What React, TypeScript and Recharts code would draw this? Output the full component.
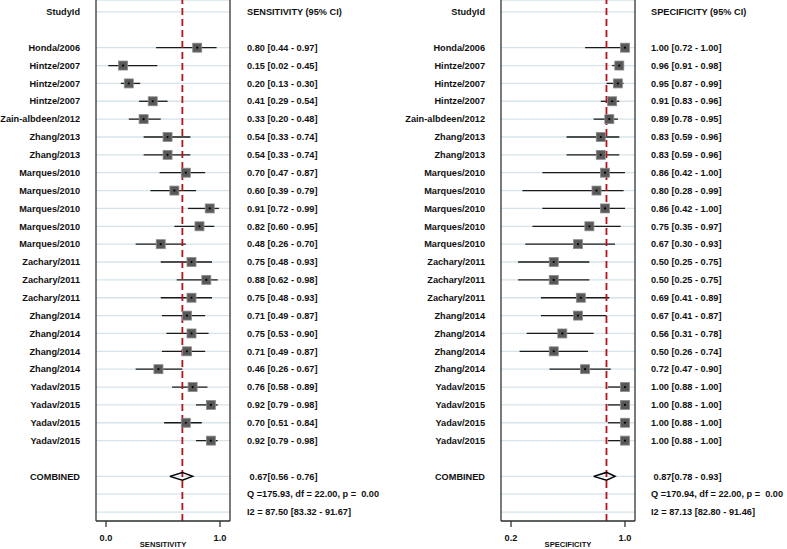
import React from 'react';
import { ComposedChart, Scatter, XAxis, YAxis, CartesianGrid, ReferenceLine, ErrorBar } from 'recharts';

const studies = [
  'Honda/2006', 'Hintze/2007', 'Hintze/2007', 'Hintze/2007', 'Zain-albdeen/2012',
  'Zhang/2013', 'Zhang/2013', 'Marques/2010', 'Marques/2010', 'Marques/2010',
  'Marques/2010', 'Marques/2010', 'Zachary/2011', 'Zachary/2011', 'Zachary/2011',
  'Zhang/2014', 'Zhang/2014', 'Zhang/2014', 'Zhang/2014', 'Yadav/2015',
  'Yadav/2015', 'Yadav/2015', 'Yadav/2015',
];

const sensEst = [0.80, 0.15, 0.20, 0.41, 0.33, 0.54, 0.54, 0.70, 0.60, 0.91, 0.82, 0.48, 0.75, 0.88, 0.75, 0.71, 0.75, 0.71, 0.46, 0.76, 0.92, 0.70, 0.92];
const sensLo = [0.44, 0.02, 0.13, 0.29, 0.20, 0.33, 0.33, 0.47, 0.39, 0.72, 0.60, 0.26, 0.48, 0.62, 0.48, 0.49, 0.53, 0.49, 0.26, 0.58, 0.79, 0.51, 0.79];
const sensHi = [0.97, 0.45, 0.30, 0.54, 0.48, 0.74, 0.74, 0.87, 0.79, 0.99, 0.95, 0.70, 0.93, 0.98, 0.93, 0.87, 0.90, 0.87, 0.67, 0.89, 0.98, 0.84, 0.98];

const specEst = [1.00, 0.96, 0.95, 0.91, 0.89, 0.83, 0.83, 0.86, 0.80, 0.86, 0.75, 0.67, 0.50, 0.50, 0.69, 0.67, 0.56, 0.50, 0.72, 1.00, 1.00, 1.00, 1.00];
const specLo = [0.72, 0.91, 0.87, 0.83, 0.78, 0.59, 0.59, 0.42, 0.28, 0.42, 0.35, 0.30, 0.25, 0.25, 0.41, 0.41, 0.31, 0.26, 0.47, 0.88, 0.88, 0.88, 0.88];
const specHi = [1.00, 0.98, 0.99, 0.96, 0.95, 0.96, 0.96, 1.00, 0.99, 1.00, 0.97, 0.93, 0.75, 0.75, 0.89, 0.87, 0.78, 0.74, 0.90, 1.00, 1.00, 1.00, 1.00];

// [estimate, lower, upper]
const sensCombined = [0.67, 0.56, 0.76];
const specCombined = [0.87, 0.78, 0.93];
// [Q, df, p]
const sensHetero = [175.93, 22.0, 0.0];
const specHetero = [170.94, 22.0, 0.0];
// [I2, lower, upper]
const sensI2 = [87.5, 83.32, 91.67];
const specI2 = [87.13, 82.8, 91.46];

const sensTicks = [0, 1];
const specTicks = [0.2, 1.0];

const FONT = '"Liberation Sans", Arial, Helvetica, sans-serif';
const FIRST_ROW = 2;
const COMBINED_ROW = FIRST_ROW + studies.length + 1;
const Q_ROW = COMBINED_ROW + 1;
const I2_ROW = COMBINED_ROW + 2;
const Y_DOMAIN: [number, number] = [-0.67, I2_ROW + 0.5];
const rowTicks = [0, ...studies.map((_, i) => i + FIRST_ROW), COMBINED_ROW, Q_ROW, I2_ROW];

const f2 = (v: number) => v.toFixed(2);

const RowTick = (props: any) => {
  const { x, y, payload, labels, anchor } = props;
  const t = labels[payload.value];
  if (!t) return <g />;
  return (
    <text
      x={x}
      y={y}
      dy="0.35em"
      textAnchor={anchor}
      fontSize={9.2}
      fontWeight="bold"
      fill="#111"
      fontFamily={FONT}
      xmlSpace="preserve"
      style={{ whiteSpace: 'pre' }}
    >
      {t}
    </text>
  );
};

const Square = (props: any) => {
  const { cx, cy } = props;
  if (cx == null || cy == null) return <g />;
  return (
    <g>
      <rect x={cx - 4.5} y={cy - 4.5} width={9} height={9} fill="#595959" stroke="#8c8c8c" strokeWidth={0.8} />
      <circle cx={cx} cy={cy} r={1.1} fill="#000" />
    </g>
  );
};

const Nothing = () => <g />;

type PanelProps = {
  header: string;
  title: string;
  est: number[];
  lo: number[];
  hi: number[];
  combined: number[];
  hetero: number[];
  i2: number[];
  xDomain: [number, number];
  xTicks: number[];
  left: number;
  width: number;
  leftW: number;
  rightW: number;
  rightMargin: number;
};

const Panel = ({ header, title, est, lo, hi, combined, hetero, i2, xDomain, xTicks, left, width, leftW, rightW, rightMargin }: PanelProps) => {
  const data = studies.map((_, i) => ({
    x: est[i],
    y: i + FIRST_ROW,
    err: [est[i] - lo[i], hi[i] - est[i]],
  }));
  const h = 0.22;
  const diamond = [
    { x: combined[1], y: COMBINED_ROW },
    { x: combined[0], y: COMBINED_ROW - h },
    { x: combined[2], y: COMBINED_ROW },
    { x: combined[0], y: COMBINED_ROW + h },
    { x: combined[1], y: COMBINED_ROW },
  ];
  const leftLabels: Record<number, string> = { 0: 'StudyId', [COMBINED_ROW]: 'COMBINED' };
  studies.forEach((s, i) => { leftLabels[i + FIRST_ROW] = s; });
  const rightLabels: Record<number, string> = {
    0: header,
    [COMBINED_ROW]: ` ${f2(combined[0])}[${f2(combined[1])} - ${f2(combined[2])}]`,
    [Q_ROW]: `Q =${f2(hetero[0])}, df = ${f2(hetero[1])}, p =  ${f2(hetero[2])}`,
    [I2_ROW]: `I2 = ${f2(i2[0])} [${f2(i2[1])} - ${f2(i2[2])}]`,
  };
  studies.forEach((_, i) => {
    rightLabels[i + FIRST_ROW] = `${f2(est[i])} [${f2(lo[i])} - ${f2(hi[i])}]`;
  });

  return (
    <div style={{ position: 'absolute', left, top: 0, width, height: 549 }}>
      <ComposedChart width={width} height={549} margin={{ top: 0, right: 0, bottom: 0, left: 0 }}>
        <CartesianGrid yAxisId="l" vertical={false} stroke="#d4e4ea" strokeWidth={1.3} />
        <XAxis
          type="number"
          dataKey="x"
          domain={xDomain}
          ticks={xTicks}
          allowDataOverflow
          interval={0}
          height={28}
          tickSize={6}
          tickMargin={7}
          stroke="#333"
          strokeWidth={1.3}
          tickFormatter={(v: number) => v.toFixed(1)}
          tick={{ fontSize: 9.2, fontWeight: 'bold', fill: '#111', fontFamily: FONT }}
          label={{ value: title, position: 'insideBottom', offset: 2.5, fontSize: 7.6, fontWeight: 'bold', fill: '#111', fontFamily: FONT }}
        />
        <YAxis
          yAxisId="l"
          type="number"
          dataKey="y"
          orientation="left"
          domain={Y_DOMAIN}
          allowDataOverflow
          reversed
          ticks={rowTicks}
          interval={0}
          width={leftW}
          tickLine={false}
          tickSize={6}
          tickMargin={10}
          stroke="#333"
          strokeWidth={1.3}
          tick={(p: any) => <RowTick {...p} labels={leftLabels} anchor="end" />}
        />
        <YAxis
          yAxisId="r"
          type="number"
          orientation="right"
          domain={Y_DOMAIN}
          allowDataOverflow
          reversed
          ticks={rowTicks}
          interval={0}
          width={rightW}
          tickLine={false}
          tickSize={6}
          tickMargin={rightMargin}
          stroke="#333"
          strokeWidth={1.3}
          tick={(p: any) => <RowTick {...p} labels={rightLabels} anchor="start" />}
        />
        <Scatter
          yAxisId="l"
          data={diamond}
          dataKey="x"
          line={{ stroke: '#000', strokeWidth: 1.5 }}
          lineType="joint"
          shape={Nothing}
          isAnimationActive={false}
        />
        <Scatter yAxisId="l" data={data} dataKey="x" shape={Square} isAnimationActive={false}>
          <ErrorBar dataKey="err" direction="x" width={0} stroke="#1a1a1a" strokeWidth={1.3} />
        </Scatter>
        <ReferenceLine yAxisId="l" x={combined[0]} stroke="#b5121b" strokeWidth={1.8} strokeDasharray="7 4" />
      </ComposedChart>
    </div>
  );
};

export default function App() {
  return (
    <div style={{ position: 'absolute', left: 0, top: 0, width: 787, height: 549, background: '#fff' }}>
      <Panel
        header="SENSITIVITY (95% CI)"
        title="SENSITIVITY"
        est={sensEst}
        lo={sensLo}
        hi={sensHi}
        combined={sensCombined}
        hetero={sensHetero}
        i2={sensI2}
        xDomain={[-0.0877, 1.0877]}
        xTicks={sensTicks}
        left={0}
        width={390}
        leftW={96}
        rightW={160}
        rightMargin={11}
      />
      <Panel
        header="SPECIFICITY (95% CI)"
        title="SPECIFICITY"
        est={specEst}
        lo={specLo}
        hi={specHi}
        combined={specCombined}
        hetero={specHetero}
        i2={specI2}
        xDomain={[0.1298, 1.0702]}
        xTicks={specTicks}
        left={390}
        width={397}
        leftW={111}
        rightW={152}
        rightMargin={10}
      />
    </div>
  );
}
